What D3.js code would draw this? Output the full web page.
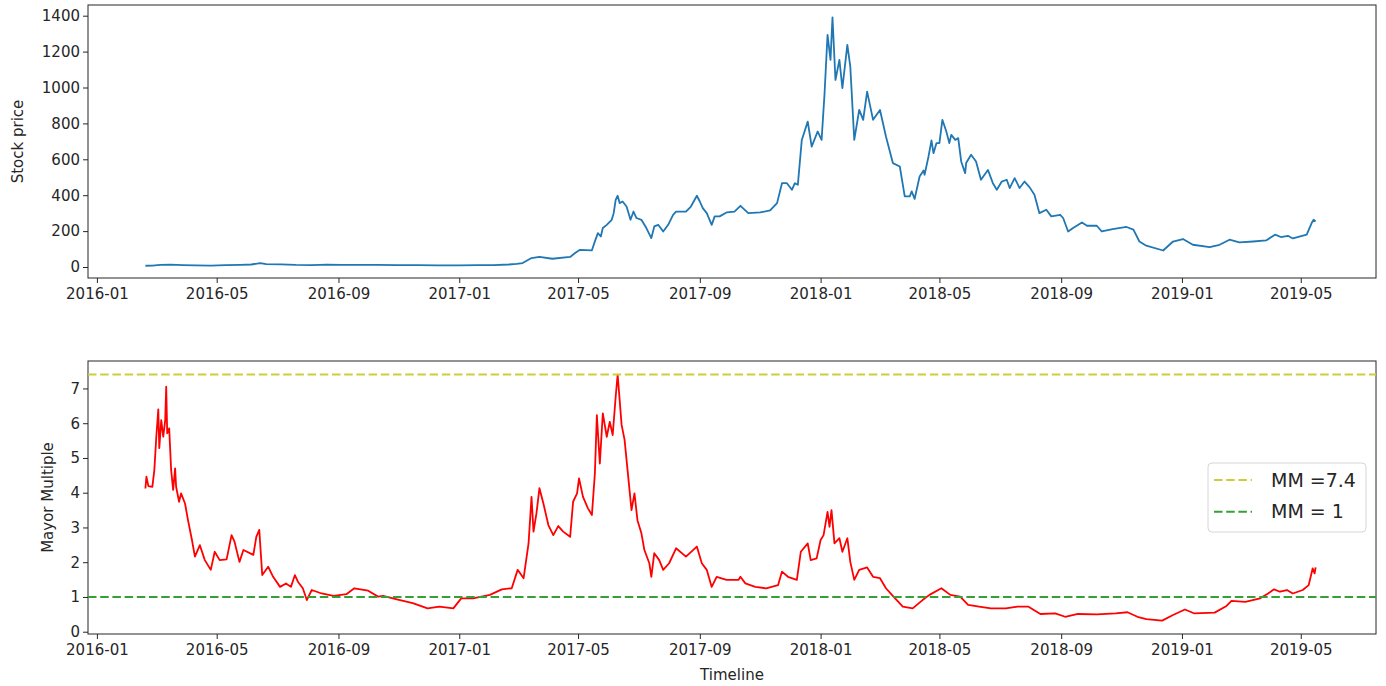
<!DOCTYPE html>
<html>
<head>
<meta charset="utf-8">
<script src="https://cdn.jsdelivr.net/npm/d3@7"></script>
<style>
  body { margin: 0; background: #fff; }
  text { font-family: "DejaVu Sans", sans-serif; fill: #262626; }
</style>
</head>
<body>
<svg id="chart" width="1386" height="686"></svg>
<script>
// Daily closing price (sampled) and Mayer Multiple over the same period
const priceSeries = [
  ["2016-02-19",7],["2016-02-26",8],["2016-03-05",12],["2016-03-15",13],["2016-03-28",11],
  ["2016-04-10",9],["2016-04-25",8],["2016-05-10",10],["2016-05-25",12],["2016-06-05",14],
  ["2016-06-14",22],["2016-06-20",16],["2016-07-05",15],["2016-07-20",12],["2016-08-05",11],
  ["2016-08-20",13],["2016-09-05",12],["2016-09-25",12],["2016-10-10",12],["2016-10-30",11],
  ["2016-11-20",10],["2016-12-10",9],["2017-01-01",9],["2017-01-20",10],["2017-02-05",11],
  ["2017-02-20",14],["2017-02-28",17],["2017-03-06",22],["2017-03-15",50],["2017-03-23",56],
  ["2017-04-05",46],["2017-04-23",56],["2017-04-28",78],["2017-05-03",96],["2017-05-15",93],
  ["2017-05-18",143],["2017-05-21",189],["2017-05-24",170],["2017-05-26",217],["2017-05-30",235],
  ["2017-06-04",263],["2017-06-06",300],["2017-06-08",374],["2017-06-10",397],["2017-06-12",356],
  ["2017-06-15",365],["2017-06-19",337],["2017-06-23",263],["2017-06-26",309],["2017-06-29",273],
  ["2017-07-04",263],["2017-07-09",217],["2017-07-14",161],["2017-07-17",226],["2017-07-21",235],
  ["2017-07-26",198],["2017-07-31",235],["2017-08-05",291],["2017-08-08",309],["2017-08-18",309],
  ["2017-08-23",337],["2017-08-29",397],["2017-09-01",365],["2017-09-04",328],["2017-09-08",300],
  ["2017-09-13",235],["2017-09-16",282],["2017-09-21",282],["2017-09-28",304],["2017-10-06",309],
  ["2017-10-12",341],["2017-10-20",300],["2017-11-01",304],["2017-11-11",315],["2017-11-18",356],
  ["2017-11-23",467],["2017-11-28",467],["2017-12-03",430],["2017-12-06",467],["2017-12-09",458],
  ["2017-12-13",708],["2017-12-19",810],["2017-12-23",671],["2017-12-29",755],["2018-01-02",708],
  ["2018-01-05",968],["2018-01-08",1293],["2018-01-11",1154],["2018-01-13",1391],["2018-01-16",1042],
  ["2018-01-20",1154],["2018-01-23",996],["2018-01-28",1237],["2018-01-31",1116],["2018-02-04",708],
  ["2018-02-09",875],["2018-02-13",820],["2018-02-17",977],["2018-02-23",820],["2018-03-02",875],
  ["2018-03-08",727],["2018-03-15",579],["2018-03-22",560],["2018-03-27",393],["2018-04-01",393],
  ["2018-04-03",421],["2018-04-06",380],["2018-04-11",504],["2018-04-15",538],["2018-04-16",514],
  ["2018-04-20",616],["2018-04-23",705],["2018-04-25",634],["2018-04-28",690],["2018-05-01",690],
  ["2018-05-04",820],["2018-05-08",755],["2018-05-11",690],["2018-05-13",736],["2018-05-17",708],
  ["2018-05-20",718],["2018-05-23",588],["2018-05-27",523],["2018-05-28",579],["2018-06-02",625],
  ["2018-06-07",588],["2018-06-12",486],["2018-06-19",541],["2018-06-24",467],["2018-06-28",430],
  ["2018-07-03",476],["2018-07-08",486],["2018-07-11",440],["2018-07-16",495],["2018-07-21",440],
  ["2018-07-26",476],["2018-07-31",445],["2018-08-05",402],["2018-08-10",300],["2018-08-17",319],
  ["2018-08-22",282],["2018-08-31",291],["2018-09-03",273],["2018-09-08",198],["2018-09-13",217],
  ["2018-09-22",248],["2018-09-27",230],["2018-10-07",230],["2018-10-12",198],["2018-10-23",211],
  ["2018-11-06",223],["2018-11-13",208],["2018-11-19",142],["2018-11-26",119],["2018-12-13",92],
  ["2018-12-23",142],["2019-01-02",156],["2019-01-12",124],["2019-01-29",111],["2019-02-08",124],
  ["2019-02-18",152],["2019-02-28",137],["2019-03-14",142],["2019-03-27",148],["2019-04-05",180],
  ["2019-04-11",167],["2019-04-18",174],["2019-04-23",159],["2019-05-07",180],["2019-05-12",245],
  ["2019-05-14",263],["2019-05-16",254]
];

const multipleSeries = [
  ["2016-02-19",4.12],["2016-02-20",4.46],["2016-02-22",4.19],["2016-02-26",4.17],["2016-02-28",4.65],
  ["2016-03-01",5.61],["2016-03-03",6.40],["2016-03-04",5.28],["2016-03-06",6.09],["2016-03-08",5.61],
  ["2016-03-10",6.09],["2016-03-11",7.05],["2016-03-12",5.71],["2016-03-14",5.85],["2016-03-16",4.65],
  ["2016-03-18",4.08],["2016-03-20",4.70],["2016-03-21",4.17],["2016-03-24",3.74],["2016-03-26",3.98],
  ["2016-03-30",3.69],["2016-04-02",3.21],["2016-04-06",2.64],["2016-04-09",2.16],["2016-04-14",2.49],
  ["2016-04-19",2.06],["2016-04-25",1.78],["2016-04-29",2.30],["2016-05-04",2.06],["2016-05-11",2.08],
  ["2016-05-16",2.78],["2016-05-19",2.59],["2016-05-24",2.01],["2016-05-28",2.35],["2016-06-07",2.21],
  ["2016-06-10",2.73],["2016-06-13",2.93],["2016-06-16",1.63],["2016-06-22",1.87],["2016-06-27",1.58],
  ["2016-07-04",1.29],["2016-07-10",1.39],["2016-07-15",1.29],["2016-07-19",1.63],["2016-07-22",1.44],
  ["2016-07-27",1.25],["2016-07-31",0.91],["2016-08-05",1.20],["2016-08-15",1.10],["2016-08-27",1.03],
  ["2016-09-09",1.08],["2016-09-17",1.25],["2016-10-01",1.18],["2016-10-11",1.01],["2016-10-16",1.03],
  ["2016-10-30",0.93],["2016-11-15",0.82],["2016-11-30",0.67],["2016-12-12",0.72],["2016-12-26",0.67],
  ["2017-01-03",0.96],["2017-01-15",0.96],["2017-02-01",1.06],["2017-02-13",1.22],["2017-02-23",1.25],
  ["2017-03-01",1.78],["2017-03-07",1.54],["2017-03-12",2.54],["2017-03-15",3.88],["2017-03-17",2.88],
  ["2017-03-20",3.41],["2017-03-23",4.13],["2017-03-27",3.69],["2017-04-01",3.07],["2017-04-06",2.78],
  ["2017-04-11",3.04],["2017-04-16",2.88],["2017-04-23",2.73],["2017-04-26",3.74],["2017-04-30",3.98],
  ["2017-05-02",4.41],["2017-05-06",3.88],["2017-05-11",3.55],["2017-05-15",3.36],["2017-05-18",4.56],
  ["2017-05-20",6.23],["2017-05-23",4.84],["2017-05-26",6.28],["2017-05-30",5.61],["2017-06-02",6.04],
  ["2017-06-05",5.66],["2017-06-08",6.76],["2017-06-10",7.40],["2017-06-14",5.95],["2017-06-17",5.52],
  ["2017-06-20",4.65],["2017-06-24",3.50],["2017-06-27",3.98],["2017-06-30",3.21],["2017-07-04",2.83],
  ["2017-07-07",2.35],["2017-07-12",1.97],["2017-07-14",1.58],["2017-07-17",2.26],["2017-07-22",2.06],
  ["2017-07-26",1.78],["2017-08-01",1.97],["2017-08-08",2.40],["2017-08-18",2.16],["2017-08-29",2.45],
  ["2017-09-03",1.97],["2017-09-08",1.78],["2017-09-13",1.29],["2017-09-18",1.58],["2017-09-28",1.49],
  ["2017-10-10",1.49],["2017-10-12",1.58],["2017-10-17",1.39],["2017-10-27",1.29],["2017-11-07",1.25],
  ["2017-11-19",1.34],["2017-11-23",1.73],["2017-11-29",1.58],["2017-12-08",1.49],["2017-12-12",2.30],
  ["2017-12-19",2.54],["2017-12-22",2.06],["2017-12-28",2.11],["2018-01-01",2.64],["2018-01-04",2.78],
  ["2018-01-08",3.45],["2018-01-10",3.02],["2018-01-12",3.50],["2018-01-15",2.54],["2018-01-20",2.69],
  ["2018-01-23",2.30],["2018-01-28",2.69],["2018-01-31",2.01],["2018-02-04",1.49],["2018-02-09",1.78],
  ["2018-02-17",1.85],["2018-02-23",1.58],["2018-03-02",1.54],["2018-03-08",1.25],["2018-03-14",1.06],
  ["2018-03-25",0.72],["2018-04-04",0.67],["2018-04-14",0.91],["2018-04-21",1.06],["2018-05-03",1.25],
  ["2018-05-12",1.06],["2018-05-22",1.01],["2018-05-30",0.77],["2018-06-10",0.72],["2018-06-22",0.67],
  ["2018-07-07",0.67],["2018-07-19",0.72],["2018-07-30",0.72],["2018-08-11",0.51],["2018-08-26",0.53],
  ["2018-09-05",0.43],["2018-09-18",0.51],["2018-10-07",0.50],["2018-10-26",0.53],["2018-11-07",0.56],
  ["2018-11-17",0.43],["2018-11-26",0.36],["2018-12-12",0.32],["2018-12-23",0.48],["2019-01-04",0.64],
  ["2019-01-13",0.53],["2019-02-03",0.55],["2019-02-15",0.74],["2019-02-20",0.89],["2019-03-06",0.86],
  ["2019-03-21",0.96],["2019-03-29",1.10],["2019-04-04",1.22],["2019-04-10",1.15],["2019-04-17",1.20],
  ["2019-04-23",1.10],["2019-05-03",1.20],["2019-05-09",1.34],["2019-05-13",1.82],["2019-05-15",1.68],
  ["2019-05-16",1.85]
];

const priceTicks = [0, 200, 400, 600, 800, 1000, 1200, 1400];
const multipleTicks = [0, 1, 2, 3, 4, 5, 6, 7];
const thresholdValues = [7.4, 1];
const thresholdLabels = ["MM =7.4", "MM = 1"];

const parse = d3.utcParse("%Y-%m-%d");
const fmt = d3.utcFormat("%Y-%m");
const svg = d3.select("#chart");

const left = 88, right = 1376;
const x = d3.scaleUtc()
  .domain([parse("2015-12-23"), parse("2019-07-16")])
  .range([left, right]);

const thresholdColors = ["#cdcd3c", "#35a035"];
const dash = "8.5,3.7";

function panel(top, bottom, yDomain, yTicks, series, color, yLabel, yLabelX) {
  const y = d3.scaleLinear().domain(yDomain).range([bottom, top]);
  const g = svg.append("g");

  const clipId = "clip" + top;
  svg.append("clipPath").attr("id", clipId)
    .append("rect").attr("x", left).attr("y", top)
    .attr("width", right - left).attr("height", bottom - top);

  const line = d3.line()
    .x(d => x(parse(d[0])))
    .y(d => y(d[1]));

  g.append("path")
    .datum(series)
    .attr("clip-path", `url(#${clipId})`)
    .attr("fill", "none")
    .attr("stroke", color)
    .attr("stroke-width", 1.8)
    .attr("stroke-linejoin", "round")
    .attr("d", line);

  const xAxis = d3.axisBottom(x)
    .ticks(d3.utcMonth.every(4))
    .tickFormat(fmt)
    .tickSize(5).tickSizeOuter(0).tickPadding(5);
  const gx = g.append("g").attr("transform", `translate(0,${bottom})`).call(xAxis);
  gx.select(".domain").remove();
  gx.selectAll("text").style("font-size", "15px");
  gx.selectAll("line").attr("stroke", "#262626");

  const yAxis = d3.axisLeft(y)
    .tickValues(yTicks)
    .tickFormat(d3.format("d"))
    .tickSize(5).tickSizeOuter(0).tickPadding(3);
  const gy = g.append("g").attr("transform", `translate(${left},0)`).call(yAxis);
  gy.select(".domain").remove();
  gy.selectAll("text").style("font-size", "15px");
  gy.selectAll("line").attr("stroke", "#262626");

  g.append("rect")
    .attr("x", left).attr("y", top)
    .attr("width", right - left).attr("height", bottom - top)
    .attr("fill", "none").attr("stroke", "#262626").attr("stroke-width", 1);

  g.append("text")
    .attr("transform", `translate(${yLabelX},${(top + bottom) / 2}) rotate(-90)`)
    .attr("text-anchor", "middle").attr("dy", "0.35em")
    .style("font-size", "15px")
    .text(yLabel);

  return { g, y };
}

// Upper panel: price
panel(5, 278, [-61.2, 1459.6], priceTicks, priceSeries, "#1f77b4", "Stock price", 18);

// Lower panel: Mayer Multiple with threshold lines
const lower = panel(361, 634, [-0.066, 7.79], multipleTicks, multipleSeries, "#ff0000", "Mayor Multiple", 48);

thresholdValues.forEach((v, i) => {
  lower.g.append("line")
    .attr("x1", left).attr("x2", right)
    .attr("y1", lower.y(v)).attr("y2", lower.y(v))
    .attr("stroke", thresholdColors[i]).attr("stroke-width", 2)
    .attr("stroke-dasharray", dash);
});

svg.append("text")
  .attr("x", (left + right) / 2).attr("y", 675).attr("dy", "0.35em")
  .attr("text-anchor", "middle").style("font-size", "15px")
  .text("Timeline");

// Legend
const legend = svg.append("g").attr("transform", "translate(1208,463)");
legend.append("rect")
  .attr("width", 158).attr("height", 69).attr("rx", 4)
  .attr("fill", "#fff").attr("fill-opacity", 0.8)
  .attr("stroke", "#d6d6d6");
thresholdLabels.forEach((label, i) => {
  const cy = 17 + i * 31.7;
  legend.append("line")
    .attr("x1", 6).attr("x2", 44).attr("y1", cy).attr("y2", cy)
    .attr("stroke", thresholdColors[i]).attr("stroke-width", 2)
    .attr("stroke-dasharray", dash);
  legend.append("text")
    .attr("x", 63).attr("y", cy).attr("dy", "0.35em")
    .style("font-size", "19px")
    .text(label);
});
</script>
</body>
</html>
